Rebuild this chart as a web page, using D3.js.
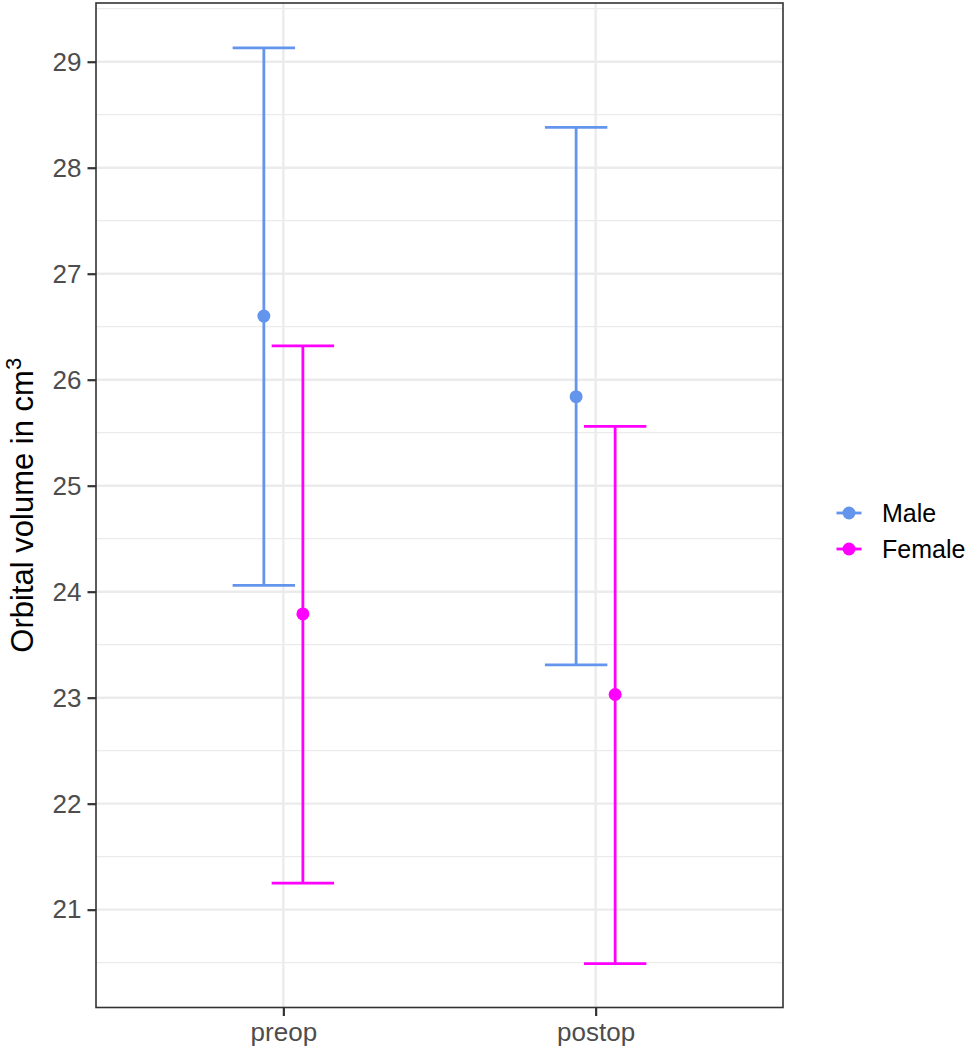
<!DOCTYPE html>
<html>
<head>
<meta charset="utf-8">
<script src="https://cdn.jsdelivr.net/npm/d3@7"></script>
<style>
    html, body { margin: 0; padding: 0; background: #ffffff; }
    text { font-family: "Liberation Sans", Arial, sans-serif; }
</style>
</head>
<body>
<div id="chart"></div>
<script>
var phases = ["preop", "postop"];
var sexes = ["Male", "Female"];
var sexColors = ["#6495ED", "#FF00FF"];
var maleMean = [26.60, 25.84];
var maleLower = [24.06, 23.31];
var maleUpper = [29.13, 28.38];
var femaleMean = [23.79, 23.03];
var femaleLower = [21.25, 20.49];
var femaleUpper = [26.32, 25.56];
var yTicks = [21, 22, 23, 24, 25, 26, 27, 28, 29];
var yMinorTicks = [20.5, 21.5, 22.5, 23.5, 24.5, 25.5, 26.5, 27.5, 28.5, 29.5];

window.onload = function () {
    var chart = new OrbitChart.Chart();
};

var OrbitChart;
(function (OrbitChart) {
    var Chart = (function () {
        function Chart() {
            this.buildRows();
            this.initializeGraphic();
            this.drawPanel();
            this.drawErrorBars();
            this.drawAxes();
            this.drawLegend();
        }

        Chart.prototype.buildRows = function () {
            this.rows = [];
            for (var i = 0; i < phases.length; i++) {
                this.rows.push({ phase: phases[i], sex: 0, mean: maleMean[i], lo: maleLower[i], hi: maleUpper[i] });
                this.rows.push({ phase: phases[i], sex: 1, mean: femaleMean[i], lo: femaleLower[i], hi: femaleUpper[i] });
            }
        };

        Chart.prototype.initializeGraphic = function () {
            this.svg = d3.select("#chart").append("svg").attr("width", Chart.width).attr("height", Chart.height);
            var p = Chart.panel;
            // discrete scale with ggplot's 0.6 expansion on each side
            this.x = d3.scaleLinear().domain([0.4, 2.6]).range([p.left, p.right]);
            this.y = d3.scaleLinear().domain([20.077, 29.554]).range([p.bottom, p.top]);
        };

        Chart.prototype.drawPanel = function () {
            var _this = this;
            var p = Chart.panel;
            var grid = this.svg.append("g");
            grid.selectAll("line.minor").data(yMinorTicks).enter().append("line")
                .attr("x1", p.left).attr("x2", p.right)
                .attr("y1", function (d) { return _this.y(d); })
                .attr("y2", function (d) { return _this.y(d); })
                .attr("stroke", "#EBEBEB").attr("stroke-width", 1.2);
            grid.selectAll("line.major").data(yTicks).enter().append("line")
                .attr("x1", p.left).attr("x2", p.right)
                .attr("y1", function (d) { return _this.y(d); })
                .attr("y2", function (d) { return _this.y(d); })
                .attr("stroke", "#EBEBEB").attr("stroke-width", 2.4);
            grid.selectAll("line.vmajor").data(phases).enter().append("line")
                .attr("x1", function (d, i) { return _this.x(i + 1); })
                .attr("x2", function (d, i) { return _this.x(i + 1); })
                .attr("y1", p.top).attr("y2", p.bottom)
                .attr("stroke", "#EBEBEB").attr("stroke-width", 2.4);
        };

        Chart.prototype.xPos = function (d) {
            var idx = phases.indexOf(d.phase) + 1;
            return this.x(idx + (d.sex === 0 ? -Chart.dodge : Chart.dodge));
        };

        Chart.prototype.drawErrorBars = function () {
            var _this = this;
            var capHalf = this.x(0.1) - this.x(0);
            var bars = this.svg.append("g").selectAll("g").data(this.rows).enter().append("g")
                .attr("stroke", function (d) { return sexColors[d.sex]; })
                .attr("stroke-width", 2.8);
            bars.append("line")
                .attr("x1", function (d) { return _this.xPos(d); })
                .attr("x2", function (d) { return _this.xPos(d); })
                .attr("y1", function (d) { return _this.y(d.lo); })
                .attr("y2", function (d) { return _this.y(d.hi); });
            bars.append("line")
                .attr("x1", function (d) { return _this.xPos(d) - capHalf; })
                .attr("x2", function (d) { return _this.xPos(d) + capHalf; })
                .attr("y1", function (d) { return _this.y(d.hi); })
                .attr("y2", function (d) { return _this.y(d.hi); });
            bars.append("line")
                .attr("x1", function (d) { return _this.xPos(d) - capHalf; })
                .attr("x2", function (d) { return _this.xPos(d) + capHalf; })
                .attr("y1", function (d) { return _this.y(d.lo); })
                .attr("y2", function (d) { return _this.y(d.lo); });
            bars.append("circle")
                .attr("cx", function (d) { return _this.xPos(d); })
                .attr("cy", function (d) { return _this.y(d.mean); })
                .attr("r", 6.5)
                .attr("stroke", "none")
                .attr("fill", function (d) { return sexColors[d.sex]; });
        };

        Chart.prototype.drawAxes = function () {
            var p = Chart.panel;
            var _this = this;
            this.svg.append("rect")
                .attr("x", p.left).attr("y", p.top)
                .attr("width", p.right - p.left).attr("height", p.bottom - p.top)
                .attr("fill", "none").attr("stroke", "#333333").attr("stroke-width", 1.6);

            var yAxis = this.svg.append("g").attr("transform", "translate(" + p.left + ",0)")
                .call(d3.axisLeft(this.y).tickValues(yTicks).tickSize(8.5).tickPadding(6).tickFormat(d3.format("d")));
            var xAxis = this.svg.append("g").attr("transform", "translate(0," + p.bottom + ")")
                .call(d3.axisBottom(this.x).tickValues([1, 2]).tickSize(8.5).tickPadding(7)
                    .tickFormat(function (d) { return phases[d - 1]; }));
            [yAxis, xAxis].forEach(function (ax) {
                ax.select(".domain").remove();
                ax.selectAll(".tick line").attr("stroke", "#333333").attr("stroke-width", 2.2);
                ax.selectAll(".tick text").attr("fill", "#4D4D4D")
                    .style("font-size", "26px").style("font-family", "Liberation Sans, Arial, sans-serif");
            });

            var title = this.svg.append("text")
                .attr("transform", "translate(" + 33 + "," + ((p.top + p.bottom) / 2) + ") rotate(-90)")
                .attr("text-anchor", "middle")
                .style("font-size", "31px").attr("fill", "#000000");
            title.append("tspan").text("Orbital volume in cm");
            title.append("tspan").attr("dy", -12).style("font-size", "22px").text("3");
        };

        Chart.prototype.drawLegend = function () {
            var keys = this.svg.append("g").selectAll("g").data(sexes).enter().append("g")
                .attr("transform", function (d, i) { return "translate(849," + (513 + i * 36) + ")"; });
            keys.append("line").attr("x1", -12.5).attr("x2", 12.5)
                .attr("stroke", function (d, i) { return sexColors[i]; }).attr("stroke-width", 2.8);
            keys.append("circle").attr("r", 6.5)
                .attr("fill", function (d, i) { return sexColors[i]; });
            keys.append("text").attr("x", 33).attr("dy", "0.35em")
                .style("font-size", "25px").attr("fill", "#000000")
                .text(function (d) { return d; });
        };

        Chart.width = 968;
        Chart.height = 1050;
        Chart.panel = { left: 96, right: 783, top: 3, bottom: 1007.5 };
        Chart.dodge = 0.0625;
        return Chart;
    })();
    OrbitChart.Chart = Chart;
})(OrbitChart || (OrbitChart = {}));
</script>
</body>
</html>
